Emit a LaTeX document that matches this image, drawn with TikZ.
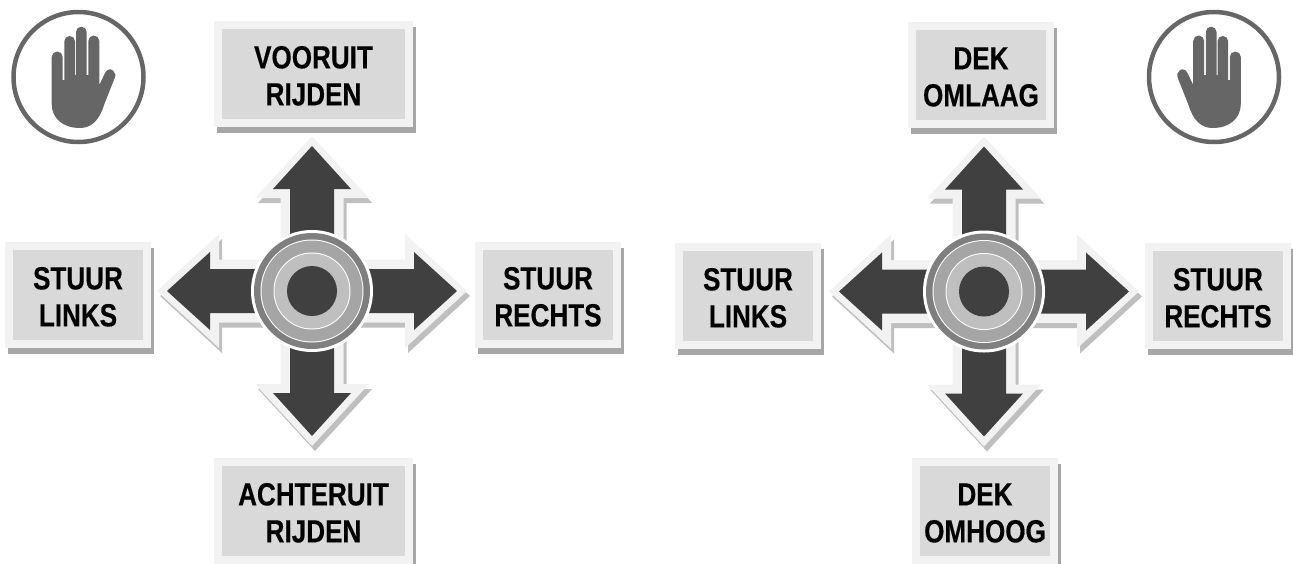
\documentclass[tikz,border=0pt]{standalone}
\usepackage{fontspec}
\newfontfamily\knopfont[FakeStretch=0.815, BoldFeatures={FakeBold=0.4}]{Liberation Sans}
\definecolor{PijlDonker}{HTML}{404040}
\definecolor{PijlRand}{HTML}{F2F2F2}
\definecolor{PijlSchaduw}{HTML}{BFBFBF}
\definecolor{KnopVlak}{HTML}{D9D9D9}
\definecolor{KnopSchaduw}{HTML}{A6A6A6}
\definecolor{RingBuiten}{HTML}{7F7F7F}
\definecolor{RingMidden}{HTML}{A5A5A5}
\definecolor{HandGrijs}{HTML}{666666}
\tikzset{
    knop/.style={fill=KnopVlak, draw=PijlRand, line width=8pt, minimum height=98pt,
        align=center, inner sep=0pt, text=black,
        font=\knopfont\bfseries\fontsize{32}{37}\selectfont,
        preaction={draw=KnopSchaduw, fill=KnopSchaduw, transform canvas={shift={(3pt,-6pt)}}}},
    smal/.style={knop, minimum width=138pt},
    breed/.style={knop, minimum width=191pt}
}
\newcommand{\knopregels}[2]{\rule{0pt}{26pt}#1\\#2}
\newcommand{\stuurkruis}[2]{
    \begin{scope}[shift={(#1,#2)}]
    % Arrows
    \foreach \hoek in {0,90,180,270} {
        \fill[PijlSchaduw, shift={(3,5)}, rotate=\hoek] (-31.5,-40) -- (-31.5,-93) -- (-57,-93) -- (0,-155) -- (57,-93) -- (31.5,-93) -- (31.5,-40) -- cycle;
    }
    \foreach \hoek in {0,90,180,270} {
        \fill[PijlRand, rotate=\hoek] (-31.5,-40) -- (-31.5,-93) -- (-57,-93) -- (0,-155) -- (57,-93) -- (31.5,-93) -- (31.5,-40) -- cycle;
        \fill[PijlDonker, rotate=\hoek] (-22,-40) -- (-22,-102) -- (-39,-102) -- (0,-145) -- (39,-102) -- (22,-102) -- (22,-40) -- cycle;
    }
    % Rings
    \fill[white] (0,0) circle (61);
    \fill[RingBuiten] (0,0) circle (58);
    \fill[white] (0,0) circle (51.5);
    \fill[RingMidden] (0,0) circle (50.5);
    \fill[white] (0,0) circle (38.5);
    \fill[PijlSchaduw] (0,0) circle (37.5);
    \fill[PijlDonker] (0,0) circle (25);
    \end{scope}
}
\newcommand{\stophand}[2]{
    \begin{scope}[shift={(#1,77)}, xscale=#2]
    \draw[HandGrijs, line width=4.5pt] (0,0) circle (65);
    \fill[HandGrijs] (-26.8,-20) arc[start angle=180, end angle=360, radius=5.5]
        -- (-15.8,3) -- (-14.2,3) -- (-14.2,-35.7) arc[start angle=180, end angle=360, radius=5.35]
        -- (-3.5,-2) -- (-2.5,-2) -- (-2.5,-45) arc[start angle=180, end angle=360, radius=5.35]
        -- (8.2,-2) -- (9.8,-2) -- (9.8,-36) arc[start angle=180, end angle=360, radius=5.5]
        -- (20.8,8) -- (26.5,-4)
        .. controls (28.5,-8) and (32,-8.5) .. (34.5,-6.5)
        .. controls (37,-4.5) and (37.5,-1.5) .. (36,1.5)
        -- (25.5,28)
        .. controls (21,43) and (13,51) .. (1.5,51)
        .. controls (-16,51) and (-26.8,41) .. (-26.8,27) -- cycle;
    \end{scope}
}
\begin{document}
\begin{tikzpicture}[x=1pt, y=-1pt]
    \useasboundingbox (0,0) rectangle (1293,563);
    % Left
    \stophand{78.5}{1}
    \stuurkruis{312}{291}
    \node[breed] (vooruit) at (313.5,74) {\knopregels{VOORUIT}{RIJDEN}};
    \node[breed] (achteruit) at (313.5,511) {\knopregels{ACHTERUIT}{RIJDEN}};
    \node[smal] (linksA) at (78,295) {\knopregels{STUUR}{LINKS}};
    \node[smal] (rechtsA) at (548,295) {\knopregels{STUUR}{RECHTS}};
    % Right
    \stophand{1214}{-1}
    \stuurkruis{984}{291.5}
    \node[smal] (omlaag) at (981,75) {\knopregels{DEK}{OMLAAG}};
    \node[smal] (omhoog) at (985,511) {\knopregels{DEK}{OMHOOG}};
    \node[smal] (linksB) at (748,296) {\knopregels{STUUR}{LINKS}};
    \node[smal] (rechtsB) at (1218,296) {\knopregels{STUUR}{RECHTS}};
\end{tikzpicture}
\end{document}
